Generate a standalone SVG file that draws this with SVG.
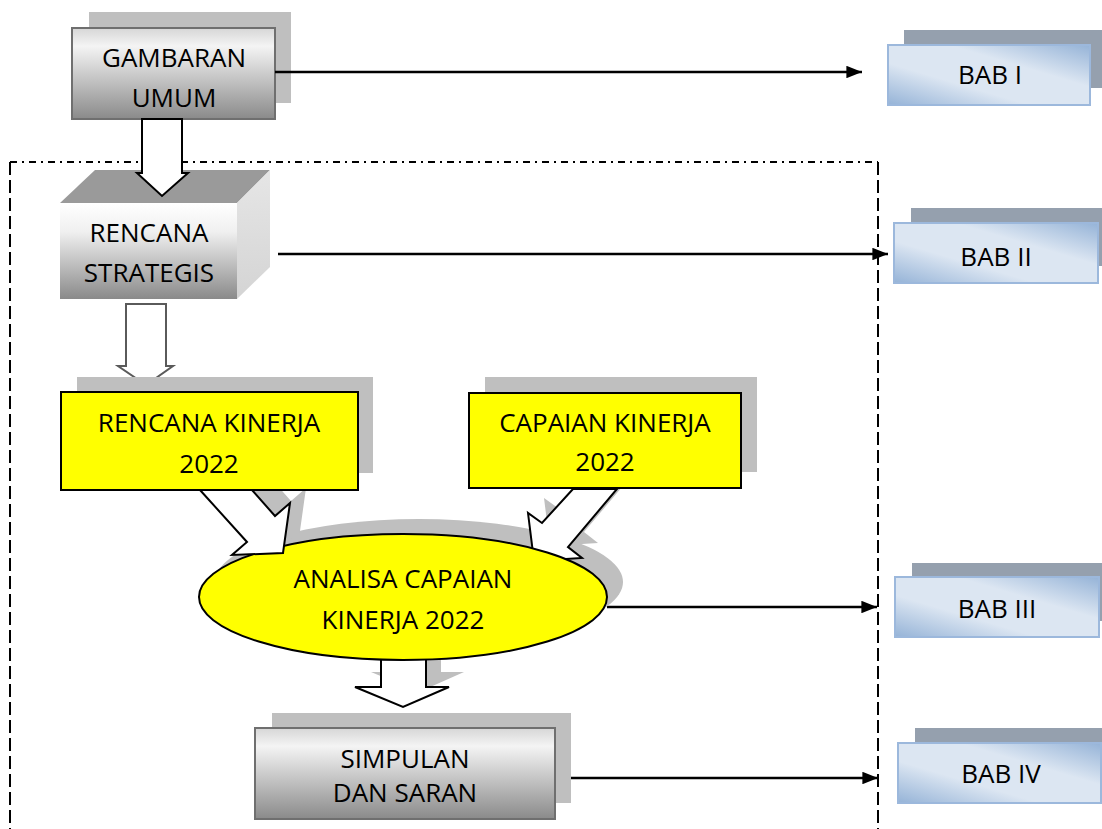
<svg xmlns="http://www.w3.org/2000/svg" width="1102" height="829" viewBox="0 0 1102 829">
<defs>
<linearGradient id="gGray" x1="0" y1="0" x2="0" y2="1">
<stop offset="0" stop-color="#d6d6d6"/>
<stop offset="0.2" stop-color="#f4f4f4"/>
<stop offset="1" stop-color="#8a8a8a"/>
</linearGradient>
<linearGradient id="gFront" x1="0" y1="0" x2="0" y2="1">
<stop offset="0" stop-color="#ffffff"/>
<stop offset="0.3" stop-color="#f0f0f0"/>
<stop offset="1" stop-color="#8a8a8a"/>
</linearGradient>
<linearGradient id="gSide" x1="0" y1="0" x2="0" y2="1">
<stop offset="0" stop-color="#e6e6e6"/>
<stop offset="1" stop-color="#d4d4d4"/>
</linearGradient>
<linearGradient id="gBlue" x1="0" y1="1" x2="1" y2="0">
<stop offset="0" stop-color="#95b3d7"/>
<stop offset="0.35" stop-color="#dce6f2"/>
<stop offset="0.65" stop-color="#dce6f2"/>
<stop offset="1" stop-color="#95b3d7"/>
</linearGradient>
<marker id="arr" viewBox="0 0 10 8" refX="10" refY="4" markerWidth="6.5" markerHeight="5.2" orient="auto" markerUnits="strokeWidth">
<path d="M0,0 L10,4 L0,8 z" fill="#000"/>
</marker>
<style>
.shadow{fill:#bfbfbf}
.bshadow{fill:#95a0ae}
.gbox{fill:url(#gGray);stroke:#6f6f6f;stroke-width:2}
.ybox{fill:#ffff00;stroke:#000;stroke-width:2}
.bbox{fill:url(#gBlue);stroke:#9cb8dc;stroke-width:2}
.blk{fill:#fff;stroke:#000;stroke-width:2;stroke-linejoin:miter}
.t{font-family:"Open Sans","Noto Sans",sans-serif;font-size:26px;fill:#000;text-anchor:middle}
.conn{stroke:#000;stroke-width:2.4;fill:none;marker-end:url(#arr)}
.frame{stroke:#000;stroke-width:2;fill:none}
</style>
</defs>

<g id="frame">
<line class="frame" x1="10" y1="162" x2="878" y2="162" stroke-dasharray="7,5,2,5"/>
<line class="frame" x1="10" y1="162" x2="10" y2="829" stroke-dasharray="13,5"/>
<line class="frame" x1="878" y1="162" x2="878" y2="829" stroke-dasharray="13,5"/>
</g>

<g id="gambaran-umum">
<rect class="shadow" x="89" y="12" width="202" height="91"/>
<rect class="gbox" x="72" y="28" width="203" height="91"/>
<text class="t" x="174" y="67">GAMBARAN</text>
<text class="t" x="174" y="107">UMUM</text>
</g>

<g id="rencana-strategis">
<polygon points="60,203 237,203 270,170 95,170" fill="#9a9a9a"/>
<polygon points="237,203 270,170 270,267 237,299" fill="url(#gSide)"/>
<rect x="60" y="203" width="177" height="96" fill="url(#gFront)"/>
<text class="t" x="149" y="242">RENCANA</text>
<text class="t" x="149" y="282">STRATEGIS</text>
</g>

<g id="connectors">
<polygon class="blk" points="142,119 182,119 182,173 188,173 162,196 137,173 142,173"/>
<polygon points="126,304 166,304 166,366 173,366 146,385 118,366 126,366" fill="#fff" stroke="#5a5a5a" stroke-width="2"/>
<line class="conn" x1="275" y1="72" x2="862" y2="72"/>
<line class="conn" x1="278" y1="254" x2="888" y2="254"/>
<line class="conn" x1="607" y1="607" x2="877" y2="607"/>
<line class="conn" x1="555" y1="778" x2="878" y2="778"/>
</g>

<g id="shadows">
<ellipse class="shadow" cx="419" cy="582" rx="204" ry="63"/>
<polygon class="shadow" points="216,475 263,527 248,540 299,538 306,488 291,501 268,475"/>
<polygon class="shadow" points="589,474 558,508 544,498 550,546 598,543 584,532 633,474"/>
<polygon class="shadow" points="397,640 441,640 441,672 464,672 419,692 371,672 397,672"/>
</g>

<g id="arrow-capaian">
<polygon class="blk" points="573,489 542,523 528,513 534,561 582,558 568,547 617,489"/>
</g>

<g id="arrow-analisa-down">
<polygon class="blk" points="381,650 426,650 426,687 449,687 403,707 355,687 381,687"/>
</g>

<g id="analisa">
<ellipse cx="403" cy="597" rx="204" ry="63" fill="#ffff00" stroke="#000" stroke-width="2"/>
<text class="t" x="403" y="588">ANALISA CAPAIAN</text>
<text class="t" x="403" y="629">KINERJA 2022</text>
</g>

<g id="arrow-rencana">
<polygon class="blk" points="200,490 247,542 232,555 283,553 290,503 275,516 252,490"/>
</g>

<g id="rencana-kinerja">
<rect class="shadow" x="77" y="377" width="296" height="96"/>
<rect class="ybox" x="61" y="392" width="297" height="98"/>
<text class="t" x="209" y="432">RENCANA KINERJA</text>
<text class="t" x="209" y="473">2022</text>
</g>

<g id="capaian-kinerja">
<rect class="shadow" x="485" y="377" width="272" height="95"/>
<rect class="ybox" x="469" y="393" width="272" height="95"/>
<text class="t" x="605" y="432">CAPAIAN KINERJA</text>
<text class="t" x="605" y="471">2022</text>
</g>

<g id="simpulan">
<rect class="shadow" x="272" y="713" width="299" height="90"/>
<rect class="gbox" x="255" y="728" width="300" height="91"/>
<text class="t" x="405" y="768">SIMPULAN</text>
<text class="t" x="405" y="802">DAN SARAN</text>
</g>

<g id="bab-1">
<rect class="bshadow" x="904" y="30" width="198" height="58"/>
<rect class="bbox" x="888" y="45" width="202" height="60"/>
<text class="t" x="990" y="84">BAB I</text>
</g>

<g id="bab-2">
<rect class="bshadow" x="911" y="208" width="191" height="58"/>
<rect class="bbox" x="894" y="223" width="204" height="60"/>
<text class="t" x="996" y="266">BAB II</text>
</g>

<g id="bab-3">
<rect class="bshadow" x="912" y="563" width="190" height="58"/>
<rect class="bbox" x="895" y="577" width="204" height="60"/>
<text class="t" x="997" y="618">BAB III</text>
</g>

<g id="bab-4">
<rect class="bshadow" x="915" y="728" width="187" height="58"/>
<rect class="bbox" x="898" y="743" width="203" height="60"/>
<text class="t" x="1001" y="783">BAB IV</text>
</g>
</svg>
